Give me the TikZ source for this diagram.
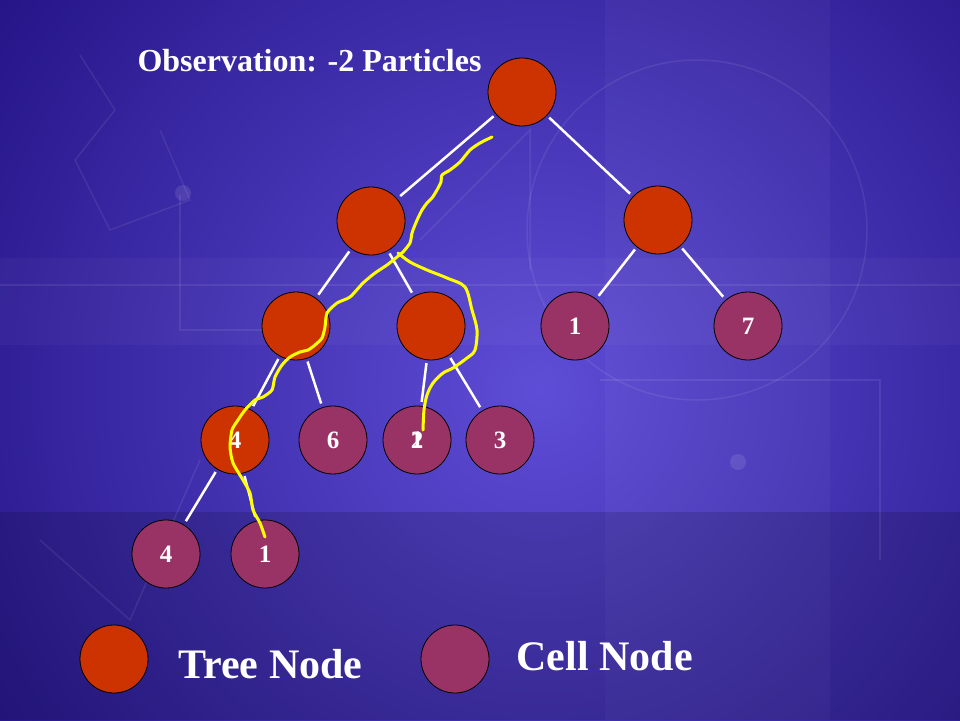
\documentclass[tikz,border=0pt]{standalone}
\usepackage{fontspec}
\setmainfont{Liberation Serif}
\usepackage{xcolor}
\usepackage{tikz}

\definecolor{bgdark}{HTML}{221284}
\definecolor{bglight}{HTML}{5E4DD6}
\definecolor{treered}{HTML}{CC3300}
\definecolor{cellplum}{HTML}{993366}
\definecolor{trackyellow}{HTML}{FFFF00}

\tikzset{
  treenode/.style={circle,draw=black,line width=0.8pt,fill=treered,
    minimum size=68pt,inner sep=0pt,text=white,font=\bfseries\fontsize{25}{25}\selectfont},
  cellnode/.style={treenode,fill=cellplum},
  branch/.style={white,line width=2.5pt,shorten <=3pt,shorten >=4pt},
  track/.style={trackyellow,line width=3pt,line join=round,line cap=round},
  faint/.style={white,opacity=0.08,line width=1.5pt}
}

\begin{document}
\begin{tikzpicture}[x=1pt,y=-1pt]
  \useasboundingbox (0,0) rectangle (960,720);
  % background
  \begin{scope}
    \clip (0,0) rectangle (960,720);
    \fill[bgdark] (0,0) rectangle (960,720);
    \shade[inner color=bglight,outer color=bgdark] (540,390) circle (700);
    \fill[white,opacity=0.03] (605,0) rectangle (830,720);
    \fill[white,opacity=0.03] (0,258) rectangle (960,345);
    \fill[black,opacity=0.14] (0,512) rectangle (960,720);
    \draw[faint] (697,230) circle (170);
    \draw[faint] (80,55) -- (115,110) -- (75,160) -- (110,230) -- (190,200) -- (160,130);
    \draw[faint] (0,285) -- (960,285);
    \draw[faint] (180,195) -- (180,330) -- (330,330);
    \draw[faint] (420,240) -- (530,130) -- (530,270);
    \draw[faint] (600,380) -- (880,380) -- (880,560);
    \draw[faint] (40,540) -- (130,620) -- (200,460);
    \fill[white,opacity=0.1] (183,193) circle (8);
    \fill[white,opacity=0.1] (738,462) circle (8);
  \end{scope}

  \node[anchor=base west,text=white,font=\bfseries\fontsize{32}{32}\selectfont]
    (title) at (134,71) {Observation: -2 Particles};

  % tree
  \node[treenode] (root) at (522,92) {};
  \node[treenode] (l) at (371,221) {};
  \node[treenode] (r) at (658,220) {};
  \node[treenode] (ll) at (296,326) {};
  \node[treenode] (lr) at (431,326) {};
  \node[cellnode] (ra) at (575,326) {1};
  \node[cellnode] (rb) at (748,326) {7};
  \node[treenode] (lll) at (235,440) {4};
  \node[cellnode] (llr) at (333,440) {6};
  \node[cellnode] (lrl) at (417,440) {\makebox[0pt]{1}\makebox[0pt]{2}};
  \node[cellnode] (lrr) at (500,440) {3};
  \node[cellnode] (la) at (166,554) {4};
  \node[cellnode] (lb) at (265,554) {1};

  \foreach \a/\b in {root/l,root/r,l/ll,l/lr,r/ra,r/rb,ll/lll,ll/llr,lr/lrl,lr/lrr,lll/la,lll/lb} {
    \draw[branch] (\a) -- (\b);
  }

  % particle tracks
  \draw[track] plot[smooth,tension=0.4] coordinates {
    (492,137) (480,143) (470,150) (460,162) (450,170) (442,175) (441,182)
    (437,190) (432,198) (427,203) (422,210) (418,218) (415,225) (412,233)
    (410,243) (403,252) (397,257) (387,265) (375,273) (363,283) (350,297)
    (337,303) (327,313) (325,327) (322,338) (315,345) (308,350) (300,352)
    (290,357) (282,365) (275,377) (272,390) (263,397) (255,400) (245,410)
    (238,420) (232,430) (230,447) (233,463) (243,480) (250,493) (253,510)
    (260,523) (265,537)};
  \draw[track] plot[smooth,tension=0.5] coordinates {
    (398,253) (410,262) (427,270) (447,278) (465,287) (472,310) (477,330)
    (475,350) (467,358) (453,368) (443,373) (433,383) (427,395) (424,410)
    (423,430)};

  % legend
  \node[treenode] (keytree) at (114,659) {};
  \node[cellnode] (keycell) at (455,659) {};
  \node[anchor=base west,text=white,font=\bfseries\fontsize{42}{42}\selectfont]
    (keytreetext) at (175,678) {Tree Node};
  \node[anchor=base west,text=white,font=\bfseries\fontsize{42}{42}\selectfont]
    (keycelltext) at (513,670) {Cell Node};
\end{tikzpicture}
\end{document}
